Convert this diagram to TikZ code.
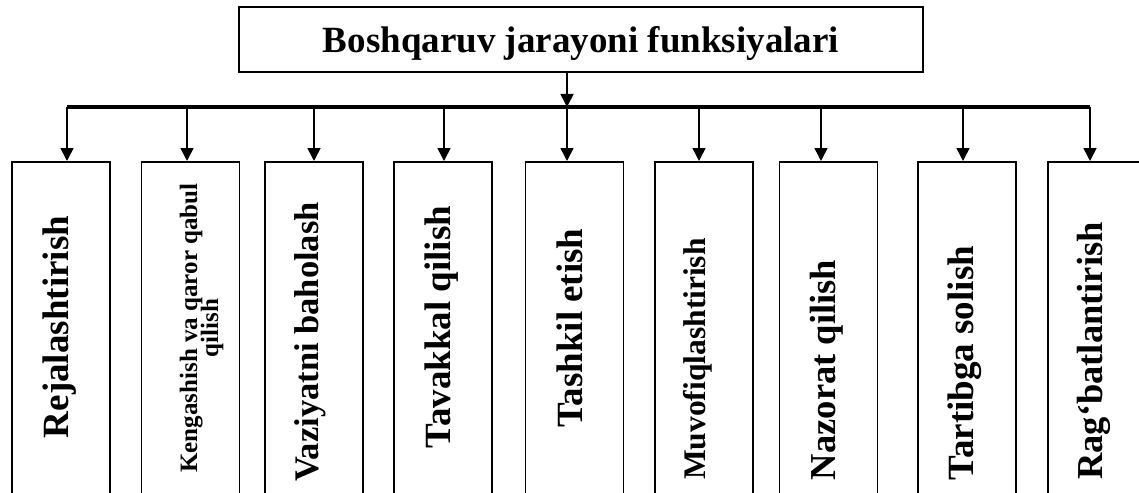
\documentclass[tikz,border=0pt]{standalone}
\usepackage{fontspec}
\setmainfont{Liberation Serif}
\usetikzlibrary{arrows.meta}

\tikzset{
  funcbox/.style={draw,line width=1.6pt,minimum width=98pt,minimum height=360pt,anchor=north,inner sep=0pt},
  vtext/.style={rotate=90,anchor=base,inner sep=0pt},
  downarrow/.style={-{Triangle[length=13pt,width=13pt]},line width=1.6pt}
}

\begin{document}
\begin{tikzpicture}[x=1pt,y=-1pt]
\useasboundingbox (0,0) rectangle (1139,492);
\clip (0,0) rectangle (1139,492);

% Title
\node[draw,line width=1.6pt,minimum width=684pt,minimum height=65pt,inner sep=0pt,
      text height=30pt,text depth=3pt,font=\bfseries\fontsize{37}{37}\selectfont]
      (title) at (581,39.5) {Boshqaruv jarayoni funksiyalari};

% Bus line
\coordinate (busL) at (67,107);
\coordinate (busR) at (1090,107);
\coordinate (hub) at (567,107);
\draw[line width=3.4pt] (busL) -- (busR);
\draw[downarrow] (title.south -| hub) -- (hub);

% Function boxes
\foreach \n/\bx/\ax in {1/61/67,2/190.5/187,3/314/314,4/443/444,5/574.5/567,
                        6/704/699,7/828.5/821,8/967/963,9/1097/1090}
{
  \node[funcbox] (f\n) at (\bx,161) {};
  \coordinate (b\n) at (\ax,107);
  \draw[downarrow] (b\n) -- (b\n |- f\n.north);
}

% Labels
\foreach \n/\tx/\ty/\fs/\txt in {1/68/327/37/Rejalashtirish,
                                 3/318/342/34.5/Vaziyatni baholash,
                                 4/450/327/37/Tavakkal qilish,
                                 5/582/328/37/Tashkil etish,
                                 6/705/359/31.5/Muvofiqlashtirish,
                                 7/835/370/36.5/Nazorat qilish,
                                 8/973/363/37/Tartibga solish,
                                 9/1102/351/36.5/Rag‘batlantirish}
{
  \node[vtext,font=\bfseries\fontsize{\fs}{\fs}\selectfont] (t\n) at (\tx,\ty) {\txt};
}
\node[vtext,font=\bfseries\fontsize{25}{25}\selectfont] (t2) at (197,328)
     {Kengashish va qaror qabul};
\node[vtext,font=\bfseries\fontsize{25}{25}\selectfont] (t2b) at (218,328) {qilish};

\end{tikzpicture}
\end{document}
